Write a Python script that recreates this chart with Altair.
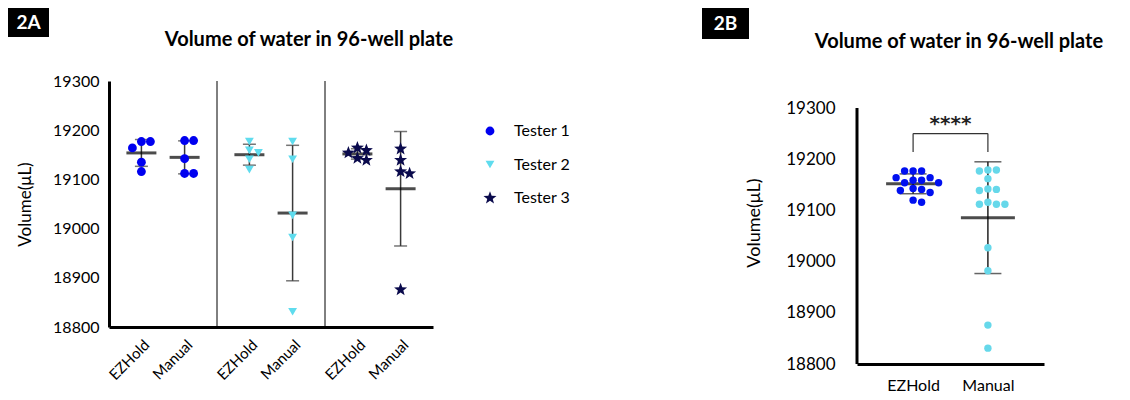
import math
import altair as alt
import pandas as pd

# ---------------- data ----------------
testers = ["Tester 1", "Tester 2", "Tester 3"]
methods = ["EZHold", "Manual"]

t1_ezhold = [19177, 19177, 19164, 19135, 19116]
t1_manual = [19179, 19179, 19142, 19112, 19112]
t2_ezhold = [19177, 19159, 19154, 19141, 19120]
t2_manual = [19177, 19141, 19027, 18982, 18831]
t3_ezhold = [19164, 19159, 19154, 19143, 19139]
t3_manual = [19162, 19139, 19116, 19112, 18876]

y_ticks = [18800, 18900, 19000, 19100, 19200, 19300]
title_text = "Volume of water in 96-well plate"
y_title = "Volume(μL)"
panel_labels = ["2A", "2B"]
sig_label = "****"
bracket_top = 19250
bracket_bottom = 19214
sig_y = 19276

# five-pointed star as an SVG path (Vega has no built-in star symbol)
_pts = []
for k in range(10):
    r = 1.55 if k % 2 == 0 else 0.65
    a = math.radians(-90 + 36 * k)
    _pts.append("%.3f,%.3f" % (r * math.cos(a), r * math.sin(a)))
STAR = "M" + "L".join(_pts) + "Z"

tester_colors = ["#0000f0", "#5fdcee", "#0a0a4c"]
tester_shapes = ["circle", "triangle-down", STAR]
method_colors = ["#0010f0", "#66d8ea"]

FONT = "Lato"
LW, LH = 324, 246            # left plot area
RW, RH = 187, 283            # right plot area (top part left empty above 19300)
R_TOP = 19300 + 27 / (256 / 500.0)
POS = {"EZHold": 0.3, "Manual": 0.7}   # slot of each method inside a group


def swarm(values, px_per_unit, diam):
    """simple beeswarm: horizontal offset (px) so markers don't overlap"""
    placed, offs = [], []
    cands = [0.0]
    for i in range(1, 30):
        cands += [i * diam * 0.5, -i * diam * 0.5]
    for v in values:
        y = v * px_per_unit
        for c in cands:
            if all((c - pc) ** 2 + (y - py) ** 2 >= (diam * 0.95) ** 2 for pc, py in placed):
                break
        placed.append((c, y))
        offs.append(c)
    return offs


rows = []
for gi, (t, ez, man) in enumerate(zip(testers, [t1_ezhold, t2_ezhold, t3_ezhold],
                                      [t1_manual, t2_manual, t3_manual])):
    for m, vals in (("EZHold", ez), ("Manual", man)):
        svals = sorted(vals, reverse=True)
        offs = swarm(svals, LH / 500.0, 9)
        for v, o in zip(svals, offs):
            rows.append({"tester": t, "gi": gi, "method": m, "value": v, "off": o})
df_left = pd.DataFrame(rows)

rrows = []
for m, groups in (("EZHold", [t1_ezhold, t2_ezhold, t3_ezhold]),
                  ("Manual", [t1_manual, t2_manual, t3_manual])):
    vals = sorted([v for g in groups for v in g], reverse=True)
    offs = swarm(vals, 256 / 500.0, 8.5)
    for v, o in zip(vals, offs):
        rrows.append({"method": m, "value": v, "off": o})
df_right = pd.DataFrame(rrows)

slot_expr = "(datum.method == 'EZHold' ? %g : %g)" % (POS["EZHold"], POS["Manual"])

# ---------------- left panel ----------------
lyscale = alt.Scale(domain=[y_ticks[0], y_ticks[-1]], nice=False, zero=False)
lxscale = alt.Scale(domain=[0, 3], nice=False, zero=False)
lxax = alt.Axis(values=[g + POS[m] for g in range(3) for m in methods],
                labelExpr="(datum.value % 1) < 0.5 ? 'EZHold' : 'Manual'",
                labelOverlap=False, labelFlush=False,
                ticks=False, grid=False, domainWidth=3, domainColor="black",
                labelAngle=315, labelFontSize=15, labelPadding=10, labelColor="black",
                labelFont=FONT)
lyax = alt.Axis(values=y_ticks, format="d", ticks=False, grid=False, domainWidth=3,
                domainColor="black", labelFontSize=16, labelPadding=10, labelColor="black",
                labelFont=FONT, titleFontSize=17, titlePadding=18, titleFontWeight="normal",
                titleColor="black", titleFont=FONT)


def lx(f):
    return alt.X(f, scale=lxscale, axis=lxax, title=None)


def ly(f):
    return alt.Y(f, scale=lyscale, axis=lyax, title=y_title)


lbase = alt.Chart(df_left)
lpts = lbase.transform_calculate(
    xpos="datum.gi + " + slot_expr + " + datum.off / %g" % (LW / 3.0)
).mark_point(filled=True, opacity=1, size=78).encode(
    x=lx("xpos:Q"), y=ly("value:Q"),
    color=alt.Color("tester:N", scale=alt.Scale(domain=testers, range=tester_colors), legend=None),
    shape=alt.Shape("tester:N", scale=alt.Scale(domain=testers, range=tester_shapes), legend=None),
)
lagg = lbase.transform_aggregate(
    m="mean(value)", sd="stdev(value)", groupby=["gi", "method"]
).transform_calculate(
    lo="datum.m - datum.sd", hi="datum.m + datum.sd", xpos="datum.gi + " + slot_expr
)
l_sd = lagg.mark_rule(color="#3a3a3a", strokeWidth=1.5).encode(x=lx("xpos:Q"), y=ly("lo:Q"), y2="hi:Q")
l_lo = lagg.mark_tick(orient="horizontal", color="#3a3a3a", size=13, thickness=1.5).encode(
    x=lx("xpos:Q"), y=ly("lo:Q"))
l_hi = lagg.mark_tick(orient="horizontal", color="#3a3a3a", size=13, thickness=1.5).encode(
    x=lx("xpos:Q"), y=ly("hi:Q"))
l_mean = lagg.mark_tick(orient="horizontal", color="black", size=30, thickness=3).encode(
    x=lx("xpos:Q"), y=ly("m:Q"))

dividers = alt.Chart(pd.DataFrame({"d": list(range(1, len(testers)))})).mark_rule(
    color="black", strokeWidth=1).encode(x=lx("d:Q"))

# legend (symbol + label per tester)
legend_layers = []
for i, (t, shp, col) in enumerate(zip(testers, tester_shapes, tester_colors)):
    ld = alt.Chart(pd.DataFrame({"t": [t]}))
    ry_i = 50 + 33.5 * i
    legend_layers.append(ld.mark_point(filled=True, opacity=1, size=78, shape=shp, color=col).encode(
        x=alt.value(381), y=alt.value(ry_i)))
    legend_layers.append(ld.mark_text(align="left", baseline="middle", fontSize=16, font=FONT,
                                      color="black").encode(
        text="t:N", x=alt.value(405), y=alt.value(ry_i)))

lab_a = alt.Chart(pd.DataFrame({"t": [panel_labels[0]]}))
box_a = lab_a.mark_rect(color="black").encode(
    x=alt.value(-101), x2=alt.value(-60), y=alt.value(-73), y2=alt.value(-44))
txt_a = lab_a.mark_text(color="white", fontWeight="bold", fontSize=19, font=FONT).encode(
    text="t:N", x=alt.value(-80.5), y=alt.value(-58))
ttl_a = alt.Chart(pd.DataFrame({"t": [title_text]})).mark_text(
    fontWeight="bold", fontSize=20, font=FONT, color="black").encode(
    text="t:N", x=alt.value(200), y=alt.value(-41))

left = alt.layer(box_a, txt_a, ttl_a, dividers, l_sd, l_lo, l_hi, l_mean, lpts,
                 *legend_layers).properties(width=LW, height=LH)

# ---------------- right panel ----------------
ryscale = alt.Scale(domain=[y_ticks[0], R_TOP], nice=False, zero=False)
rxscale = alt.Scale(domain=[0, 1], nice=False, zero=False)
rxax = alt.Axis(values=[POS[m] for m in methods],
                labelExpr="datum.value < 0.5 ? 'EZHold' : 'Manual'",
                labelOverlap=False, labelFlush=False,
                ticks=False, grid=False, domainWidth=3, domainColor="black", labelAngle=0,
                labelFontSize=16, labelPadding=13, labelColor="black", labelFont=FONT)
ryax = alt.Axis(values=y_ticks, format="d", domain=False, ticks=False, grid=False,
                labelFontSize=17, labelPadding=22, labelColor="black", labelFont=FONT,
                titleFontSize=18, titlePadding=22, titleFontWeight="normal", titleColor="black",
                titleFont=FONT)


def rx(f):
    return alt.X(f, scale=rxscale, axis=rxax, title=None)


def ry(f):
    return alt.Y(f, scale=ryscale, axis=ryax, title=y_title)


# y-axis line drawn only over the tick range
raxis = alt.Chart(pd.DataFrame({"lo": [y_ticks[0]], "hi": [y_ticks[-1]]})).mark_rule(
    color="black", strokeWidth=3).encode(x=alt.value(0), y=ry("lo:Q"), y2="hi:Q")

rbase = alt.Chart(df_right)
rpts = rbase.transform_calculate(
    xpos=slot_expr + " + datum.off / %g" % RW
).mark_circle(opacity=1, size=55).encode(
    x=rx("xpos:Q"), y=ry("value:Q"),
    color=alt.Color("method:N", scale=alt.Scale(domain=methods, range=method_colors), legend=None))
ragg = rbase.transform_aggregate(
    m="mean(value)", sd="stdev(value)", groupby=["method"]
).transform_calculate(lo="datum.m - datum.sd", hi="datum.m + datum.sd", xpos=slot_expr)
r_sd = ragg.mark_rule(color="#222", strokeWidth=1.5).encode(x=rx("xpos:Q"), y=ry("lo:Q"), y2="hi:Q")
r_lo = ragg.mark_tick(orient="horizontal", color="#222", size=27, thickness=1.5).encode(
    x=rx("xpos:Q"), y=ry("lo:Q"))
r_hi = ragg.mark_tick(orient="horizontal", color="#222", size=27, thickness=1.5).encode(
    x=rx("xpos:Q"), y=ry("hi:Q"))
r_mean = ragg.mark_tick(orient="horizontal", color="black", size=54, thickness=3).encode(
    x=rx("xpos:Q"), y=ry("m:Q"))

pair = alt.Chart(pd.DataFrame({"a": [methods[0]], "b": [methods[1]], "top": [bracket_top],
                               "t": [sig_label], "sy": [sig_y]})).transform_calculate(
    xa="datum.a == 'EZHold' ? %g : %g" % (POS["EZHold"], POS["Manual"]),
    xb="datum.b == 'EZHold' ? %g : %g" % (POS["EZHold"], POS["Manual"]),
).transform_calculate(xm="(datum.xa + datum.xb) / 2")
br_h = pair.mark_rule(color="#333", strokeWidth=1.2).encode(x=rx("xa:Q"), x2="xb:Q", y=ry("top:Q"))
sig = pair.mark_text(fontSize=20, fontWeight="bold", font="DejaVu Sans", color="#222", dy=4).encode(
    x=rx("xm:Q"), y=ry("sy:Q"), text="t:N")
legs = alt.Chart(pd.DataFrame({"method": methods, "top": [bracket_top] * 2,
                               "bot": [bracket_bottom] * 2})).transform_calculate(xpos=slot_expr)
br_v = legs.mark_rule(color="#333", strokeWidth=1.2).encode(x=rx("xpos:Q"), y=ry("bot:Q"), y2="top:Q")

lab_b = alt.Chart(pd.DataFrame({"t": [panel_labels[1]]}))
box_b = lab_b.mark_rect(color="black").encode(
    x=alt.value(-155), x2=alt.value(-108), y=alt.value(-73), y2=alt.value(-42))
txt_b = lab_b.mark_text(color="white", fontWeight="bold", fontSize=19, font=FONT).encode(
    text="t:N", x=alt.value(-131.5), y=alt.value(-57))
ttl_b = alt.Chart(pd.DataFrame({"t": [title_text]})).mark_text(
    fontWeight="bold", fontSize=20, font=FONT, color="black").encode(
    text="t:N", x=alt.value(102), y=alt.value(-39))

right = alt.layer(box_b, txt_b, ttl_b, raxis, r_sd, r_lo, r_hi, r_mean, rpts, br_h, br_v, sig).properties(
    width=RW, height=RH)

chart = alt.hconcat(left, right, spacing=131).resolve_scale(
    color="independent", shape="independent", x="independent", y="independent"
).properties(padding=0).configure(font=FONT).configure_view(strokeWidth=0)

chart.save("out.html", embed_options={"renderer": "svg", "actions": False})
